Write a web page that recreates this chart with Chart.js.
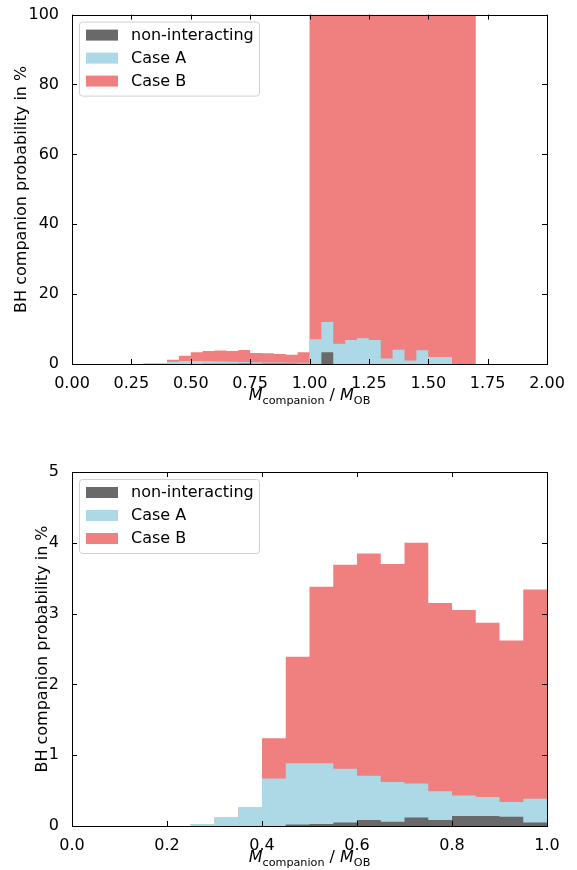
<!DOCTYPE html>
<html>
<head>
<meta charset="utf-8">
<script src="https://cdn.jsdelivr.net/npm/chart.js@4.4.0/dist/chart.umd.min.js"></script>
<style>
html, body { margin: 0; padding: 0; background: #fff; }
#wrap { position: relative; width: 577px; height: 870px; }
canvas { position: absolute; left: 0; }
</style>
</head>
<body>
<div id="wrap">
  <canvas id="topChart" width="577" height="435" style="top:0"></canvas>
  <canvas id="bottomChart" width="577" height="435" style="top:435px"></canvas>
</div>
<script>
// histogram bin edges (M_companion / M_OB), 40 bins of 0.05
var binEdges = [0.00, 0.05, 0.10, 0.15, 0.20, 0.25, 0.30, 0.35, 0.40, 0.45,
                0.50, 0.55, 0.60, 0.65, 0.70, 0.75, 0.80, 0.85, 0.90, 0.95,
                1.00, 1.05, 1.10, 1.15, 1.20, 1.25, 1.30, 1.35, 1.40, 1.45,
                1.50, 1.55, 1.60, 1.65, 1.70, 1.75, 1.80, 1.85, 1.90, 1.95, 2.00];

// probability in %, per bin (stacked in this order)
var nonInteracting = [0, 0, 0, 0, 0, 0, 0, 0, 0, 0.02,
                      0.03, 0.05, 0.085, 0.06, 0.12, 0.085, 0.14, 0.14, 0.13, 0.05,
                      0, 3.35, 0, 0, 0, 0, 0, 0, 0, 0,
                      0, 0, 0, 0, 0, 0, 0, 0, 0, 0];
var caseA = [0, 0, 0, 0, 0, 0.03, 0.12, 0.26, 0.67, 0.865,
             0.855, 0.76, 0.625, 0.56, 0.48, 0.405, 0.29, 0.27, 0.21, 0.335,
             7.1, 8.65, 5.8, 6.85, 7.4, 6.85, 1.55, 4.1, 1.0, 3.9,
             2.0, 2.0, 0, 0, 0, 0, 0, 0, 0, 0];
var caseB = [0, 0, 0, 0, 0, 0, 0, 0, 0.57, 1.505,
             2.495, 2.88, 3.14, 3.08, 3.40, 2.66, 2.62, 2.46, 2.28, 2.955,
             92.9, 88.0, 94.2, 93.15, 92.6, 93.15, 98.45, 95.9, 99.0, 96.1,
             98.0, 98.0, 100, 100, 0, 0, 0, 0, 0, 0];

var seriesNames = ['non-interacting', 'Case A', 'Case B'];
var seriesColors = ['#696969', '#add8e6', '#f08080'];

var topTicksX = [0, 0.25, 0.5, 0.75, 1, 1.25, 1.5, 1.75, 2];
var topTicksY = [0, 20, 40, 60, 80, 100];
var bottomTicksX = [0, 0.2, 0.4, 0.6, 0.8, 1.0];
var bottomTicksY = [0, 1, 2, 3, 4, 5];

Chart.defaults.font.family = '"DejaVu Sans", sans-serif';
Chart.defaults.font.size = 16;
Chart.defaults.color = '#000';

// stack the series and turn each into step points at the bin edges
function stepPoints(vals) {
  var pts = [];
  for (var i = 0; i < vals.length; i++) pts.push({ x: binEdges[i], y: vals[i] });
  pts.push({ x: binEdges[vals.length], y: vals[vals.length - 1] });
  return pts;
}
function buildDatasets() {
  var raw = [nonInteracting, caseA, caseB];
  var run = nonInteracting.map(function () { return 0; });
  return raw.map(function (s, k) {
    run = run.map(function (v, i) { return v + s[i]; });
    return {
      label: seriesNames[k],
      data: stepPoints(run),
      stepped: true,
      fill: 'origin',
      backgroundColor: seriesColors[k],
      borderWidth: 0,
      pointRadius: 0,
      clip: 0
    };
  });
}

function drawMassLabel(ctx, cx, baseY) {
  var parts = [
    { t: 'M', f: 'italic 16px "DejaVu Sans"', dy: 0 },
    { t: 'companion', f: '11.2px "DejaVu Sans"', dy: 3.5 },
    { t: ' / ', f: '16px "DejaVu Sans"', dy: 0 },
    { t: 'M', f: 'italic 16px "DejaVu Sans"', dy: 0 },
    { t: 'OB', f: '11.2px "DejaVu Sans"', dy: 3.5 }
  ];
  var total = 0;
  parts.forEach(function (p) { ctx.font = p.f; p.w = ctx.measureText(p.t).width; total += p.w; });
  var x = cx - total / 2;
  ctx.textAlign = 'left';
  ctx.textBaseline = 'alphabetic';
  parts.forEach(function (p) { ctx.font = p.f; ctx.fillText(p.t, x, baseY + p.dy); x += p.w; });
}

function roundRect(ctx, x, y, w, h, r) {
  ctx.beginPath();
  ctx.moveTo(x + r, y);
  ctx.lineTo(x + w - r, y);
  ctx.arcTo(x + w, y, x + w, y + r, r);
  ctx.lineTo(x + w, y + h - r);
  ctx.arcTo(x + w, y + h, x + w - r, y + h, r);
  ctx.lineTo(x + r, y + h);
  ctx.arcTo(x, y + h, x, y + h - r, r);
  ctx.lineTo(x, y + r);
  ctx.arcTo(x, y, x + r, y, r);
  ctx.closePath();
}

// frame, inward ticks on all sides, axis titles and the legend box
var decor = {
  id: 'decor',
  afterDraw: function (chart) {
    var ctx = chart.ctx, a = chart.chartArea, o = chart.options.plugins.decor;
    var sx = chart.scales.x, sy = chart.scales.y;
    ctx.save();
    ctx.strokeStyle = '#000';
    ctx.lineWidth = 1;
    ctx.beginPath();
    o.ticksX.forEach(function (v) {
      var px = Math.round(sx.getPixelForValue(v)) + 0.5;
      ctx.moveTo(px, a.bottom); ctx.lineTo(px, a.bottom - 5);
      ctx.moveTo(px, a.top); ctx.lineTo(px, a.top + 5);
    });
    o.ticksY.forEach(function (v) {
      var py = Math.round(sy.getPixelForValue(v)) + 0.5;
      ctx.moveTo(a.left, py); ctx.lineTo(a.left + 5, py);
      ctx.moveTo(a.right, py); ctx.lineTo(a.right - 5, py);
    });
    ctx.stroke();
    ctx.strokeRect(Math.round(a.left) + 0.5, Math.round(a.top) + 0.5,
                   Math.round(a.right - a.left), Math.round(a.bottom - a.top));

    ctx.fillStyle = '#000';
    drawMassLabel(ctx, (a.left + a.right) / 2, a.bottom + 36);

    ctx.save();
    ctx.translate(o.yTitleX, (a.top + a.bottom) / 2);
    ctx.rotate(-Math.PI / 2);
    ctx.font = '16px "DejaVu Sans"';
    ctx.textAlign = 'center';
    ctx.textBaseline = 'middle';
    ctx.fillText('BH companion probability in %', 0, 0);
    ctx.restore();

    // legend
    var lx = a.left + 7, ly = a.top + 7;
    roundRect(ctx, lx + 0.5, ly + 0.5, 180, 74, 3);
    ctx.fillStyle = 'rgba(255,255,255,0.8)';
    ctx.fill();
    ctx.strokeStyle = '#d0d0d0';
    ctx.stroke();
    ctx.font = '16px "DejaVu Sans"';
    ctx.textAlign = 'left';
    ctx.textBaseline = 'middle';
    seriesNames.forEach(function (name, k) {
      var cy = ly + 13 + k * 23;
      ctx.fillStyle = seriesColors[k];
      ctx.fillRect(lx + 7, cy - 5, 32, 11);
      ctx.fillStyle = '#000';
      ctx.fillText(name, lx + 52, cy + 1);
    });
    ctx.restore();
  }
};

function makeChart(id, cfg) {
  return new Chart(document.getElementById(id), {
    type: 'line',
    data: { datasets: buildDatasets() },
    options: {
      responsive: false,
      animation: false,
      layout: { padding: { top: cfg.padTop, right: 30, left: 0, bottom: 0 } },
      plugins: {
        legend: { display: false },
        tooltip: { enabled: false },
        decor: { ticksX: cfg.ticksX, ticksY: cfg.ticksY, yTitleX: cfg.yTitleX }
      },
      scales: {
        x: {
          type: 'linear', min: 0, max: cfg.xMax,
          afterBuildTicks: function (s) { s.ticks = cfg.ticksX.map(function (v) { return { value: v }; }); },
          ticks: {
            padding: 2, maxRotation: 0, autoSkip: false,
            callback: function (v) { return Number(v).toFixed(cfg.xDigits); }
          },
          grid: { display: false },
          border: { display: false },
          afterFit: function (s) { s.height = cfg.xAxisHeight; }
        },
        y: {
          type: 'linear', min: 0, max: cfg.yMax,
          afterBuildTicks: function (s) { s.ticks = cfg.ticksY.map(function (v) { return { value: v }; }); },
          ticks: { padding: 5, callback: function (v) { return String(v); } },
          grid: { display: false },
          border: { display: false },
          afterFit: function (s) { s.width = 72; }
        }
      }
    },
    plugins: [decor]
  });
}

makeChart('topChart', {
  padTop: 11, xAxisHeight: 71, xMax: 2, yMax: 100, xDigits: 2,
  ticksX: topTicksX, ticksY: topTicksY, yTitleX: 22
});
makeChart('bottomChart', {
  padTop: 37, xAxisHeight: 44, xMax: 1, yMax: 5, xDigits: 1,
  ticksX: bottomTicksX, ticksY: bottomTicksY, yTitleX: 43
});
</script>
</body>
</html>
